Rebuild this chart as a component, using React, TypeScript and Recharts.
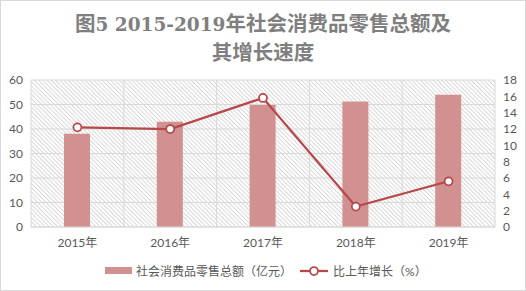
import React from "react";
import {
  ComposedChart,
  Bar,
  Line,
  XAxis,
  YAxis,
  CartesianGrid,
} from "recharts";

const years = ["2015年", "2016年", "2017年", "2018年", "2019年"];
const retailTotal = [38.1, 43, 49.8, 51.2, 54];
const growthRate = [12.2, 12, 15.8, 2.5, 5.6];
const leftTicks = [0, 10, 20, 30, 40, 50, 60];
const rightTicks = [0, 2, 4, 6, 8, 10, 12, 14, 16, 18];

const BAR_NAME = "社会消费品零售总额（亿元）";
const LINE_NAME = "比上年增长（%）";

const data = years.map((y, i) => ({
  name: y,
  total: retailTotal[i],
  growth: growthRate[i],
}));

const BAR_COLOR = "#d19191";
const LINE_COLOR = "#b8474a";
const GRID = "#d9d9d9";
const TEXT = "#595959";
const FONT = "Lato, 'Noto Sans CJK SC', sans-serif";

// vertical grid lines sit on the category borders, not the centres
// eslint-disable-next-line @typescript-eslint/no-explicit-any
const categoryBorders = (props: any) => {
  const { offset } = props;
  const n = years.length;
  const step = offset.width / n;
  const pts: number[] = [];
  for (let i = 0; i <= n; i++) pts.push(offset.left + step * i);
  return pts;
};

export default function App() {
  const latin: React.CSSProperties = {
    fontFamily: "'DejaVu Serif', serif",
    fontSize: 18.5,
  };
  return (
    <div
      style={{
        position: "fixed",
        left: 0,
        top: 0,
        width: 526,
        height: 291,
        background: "#fff",
        border: `1px solid ${GRID}`,
        boxSizing: "border-box",
        overflow: "hidden",
      }}
    >
      <div
        style={{
          position: "absolute",
          left: -1,
          top: 8,
          width: 526,
          textAlign: "center",
          fontFamily: "'Noto Sans CJK SC', serif",
          fontWeight: 700,
          fontSize: 20.5,
          lineHeight: "26px",
          color: "#7f7f7f",
        }}
      >
        图<span style={latin}>5 2015-2019</span>年社会消费品零售总额及
        <br />
        其增长速度
      </div>
      <div style={{ position: "absolute", left: -1, top: -1 }}>
        <ComposedChart
          width={526}
          height={291}
          data={data}
          margin={{ top: 80, right: 0, bottom: 34, left: 0 }}
          barCategoryGap={0}
        >
          <defs>
            <pattern
              id="hatch"
              width="3"
              height="3"
              patternUnits="userSpaceOnUse"
              patternTransform="rotate(-45)"
            >
              <rect width="3" height="3" fill="#fff" />
              <line x1="0.5" y1="0" x2="0.5" y2="3" stroke="#d4d4d4" strokeWidth="0.9" />
            </pattern>
          </defs>
          <CartesianGrid
            yAxisId="left"
            stroke={GRID}
            fill="url(#hatch)"
            fillOpacity={1}
            verticalCoordinatesGenerator={categoryBorders}
          />
          <XAxis
            dataKey="name"
            height={30}
            tickLine={false}
            axisLine={{ stroke: GRID }}
            tickMargin={5}
            tick={{ fill: TEXT, fontSize: 12, fontFamily: FONT }}
          />
          <YAxis
            yAxisId="left"
            orientation="left"
            width={31}
            domain={[0, 60]}
            ticks={leftTicks}
            interval={0}
            tickLine={false}
            axisLine={false}
            tick={{ fill: TEXT, fontSize: 12, fontFamily: FONT }}
          />
          <YAxis
            yAxisId="right"
            orientation="right"
            width={31}
            domain={[0, 18]}
            ticks={rightTicks}
            interval={0}
            tickLine={false}
            axisLine={false}
            tick={{ fill: TEXT, fontSize: 12, fontFamily: FONT }}
          />
          <Bar
            yAxisId="left"
            dataKey="total"
            name={BAR_NAME}
            fill={BAR_COLOR}
            barSize={26}
            isAnimationActive={false}
          />
          <Line
            yAxisId="right"
            type="linear"
            dataKey="growth"
            name={LINE_NAME}
            stroke={LINE_COLOR}
            strokeWidth={2.25}
            dot={{ r: 4, fill: "#fff", stroke: LINE_COLOR, strokeWidth: 1.75 }}
            activeDot={false}
            isAnimationActive={false}
          />
        </ComposedChart>
      </div>
      {/* legend */}
      <div
        style={{
          position: "absolute",
          left: 104,
          top: 261,
          display: "flex",
          alignItems: "center",
          fontFamily: FONT,
          fontSize: 12,
          color: TEXT,
          whiteSpace: "nowrap",
        }}
      >
        <div style={{ width: 27, height: 7, background: BAR_COLOR, marginRight: 4 }} />
        <span>{BAR_NAME}</span>
        <svg width={28} height={12} style={{ marginLeft: 8, marginRight: 5 }}>
          <line x1={0} y1={6} x2={28} y2={6} stroke={LINE_COLOR} strokeWidth={2.25} />
          <circle cx={14} cy={6} r={4} fill="#fff" stroke={LINE_COLOR} strokeWidth={1.75} />
        </svg>
        <span>{LINE_NAME}</span>
      </div>
    </div>
  );
}
